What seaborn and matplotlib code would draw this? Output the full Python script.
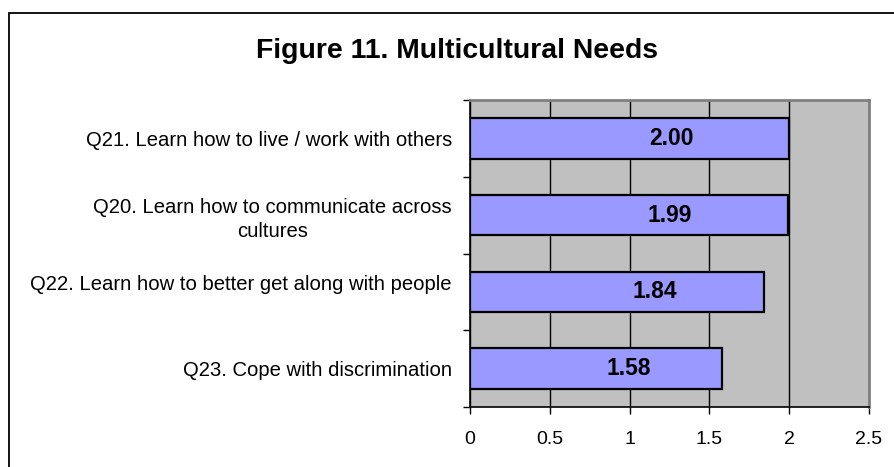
import matplotlib
matplotlib.use("Agg")
import matplotlib.pyplot as plt
import seaborn as sns
import pandas as pd
from matplotlib.patches import Rectangle

categories = [
    "Q21. Learn how to live / work with others",
    "Q20. Learn how to communicate across\ncultures",
    "Q22. Learn how to better get along with people\n",
    "Q23. Cope with discrimination",
]
values = [2.00, 1.99, 1.84, 1.58]
value_labels = ["2.00", "1.99", "1.84", "1.58"]
x_ticks = [0, 0.5, 1, 1.5, 2, 2.5]
x_tick_labels = ["0", "0.5", "1", "1.5", "2", "2.5"]
title = "Figure 11. Multicultural Needs"

sns.set_theme(style="white")
plt.rcParams["font.family"] = ["Liberation Sans", "DejaVu Sans"]

W, H = 894, 467
fig = plt.figure(figsize=(W / 100, H / 100), dpi=100)
ax = fig.add_axes([470 / W, 1 - 407 / H, (869 - 470) / W, (407 - 100) / H])

df = pd.DataFrame({"cat": categories, "val": values})
sns.barplot(data=df, x="val", y="cat", order=categories, orient="h",
            color="#9999FF", saturation=1, width=0.53,
            edgecolor="black", linewidth=1.6, ax=ax, zorder=3)
ax.set_facecolor("#C0C0C0")
ax.set_xlim(0, 2.5)
ax.set_ylim(3.5, -0.5)
ax.set_xlabel("")
ax.set_ylabel("")

ax.set_xticks(x_ticks)
ax.set_xticklabels(x_tick_labels, fontsize=14)
ax.xaxis.grid(True, color="black", linewidth=1.0, zorder=1)
ax.set_axisbelow(True)
ax.tick_params(axis="x", bottom=True, length=5, width=1, color="black", pad=12, labelcolor="black")

ax.set_yticks(range(len(categories)))
ax.set_yticklabels(categories, fontsize=14.6, multialignment="center", linespacing=1.35)
ax.set_yticks([-0.5, 0.5, 1.5, 2.5, 3.5], minor=True)
ax.tick_params(axis="y", which="major", left=False, length=0, pad=13, labelcolor="black")
ax.tick_params(axis="y", which="minor", left=True, length=5, width=1, color="black")

for side in ["left", "bottom"]:
    ax.spines[side].set_color("black")
    ax.spines[side].set_linewidth(1.2)
for side in ["top", "right"]:
    ax.spines[side].set_color("#808080")
    ax.spines[side].set_linewidth(2)

for i, (v, lab) in enumerate(zip(values, value_labels)):
    ax.text(v * 0.63, i, lab, ha="center", va="center", fontsize=16.5,
            fontweight="bold", color="black", zorder=5)

fig.text(457 / W, 1 - 51 / H, title, ha="center", va="center",
         fontsize=20.4, fontweight="bold", color="black")

fig.patches.append(Rectangle((9 / W, -0.1), 1.2, 1 - 13 / H + 0.1,
                             transform=fig.transFigure, fill=False,
                             edgecolor="black", linewidth=1.3, figure=fig))

fig.savefig("out.png", dpi=100)
